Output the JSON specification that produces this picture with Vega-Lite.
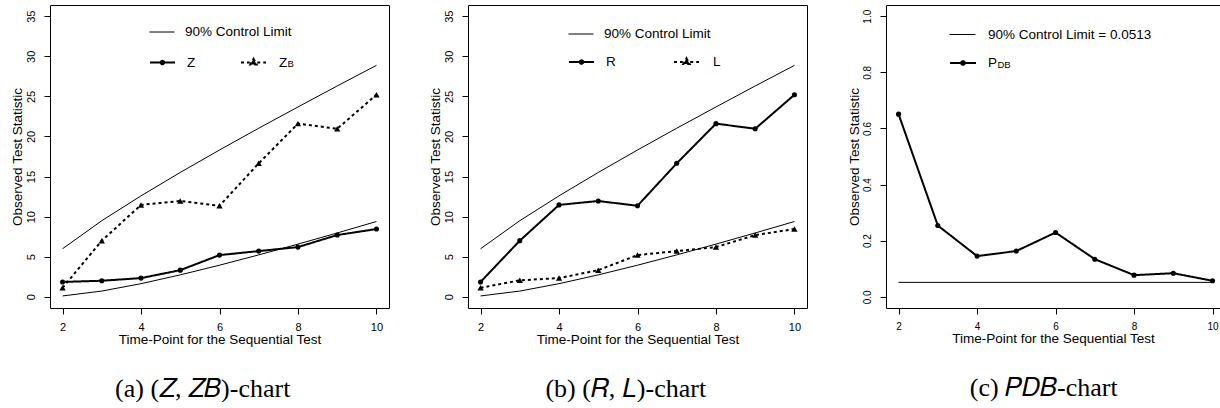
{
  "$schema": "https://vega.github.io/schema/vega-lite/v6.json",
  "usermeta": {"embedOptions": {"actions": false}},
  "background": "white",
  "padding": {"left": 9, "top": 4, "right": 0, "bottom": 0},
  "bounds": "flush",
  "spacing": 79,
  "resolve": {
    "scale": {"color": "independent", "strokeDash": "independent", "shape": "independent"},
    "legend": {"color": "independent", "strokeDash": "independent", "shape": "independent"}
  },
  "config": {
    "font": "Liberation Sans",
    "view": {"stroke": "black", "strokeWidth": 1},
    "axis": {"domain": false, "grid": false, "ticks": true, "tickSize": 6, "tickColor": "black", "tickWidth": 1, "labelColor": "black", "titleColor": "black", "titleFontWeight": "normal", "labelFont": "Liberation Sans", "titleFont": "Liberation Sans", "labelFontSize": 11, "titleFontSize": 13.5, "labelFlush": false, "labelOverlap": false},
    "axisX": {"labelPadding": 7, "titlePadding": 0},
    "axisY": {"labelPadding": 10, "titlePadding": 0.5},
    "legend": {"labelFont": "Liberation Sans", "labelFontSize": 13.5, "labelColor": "black", "labelLimit": 0, "padding": 0, "titleColor": "black", "symbolOpacity": 1}
  },
  "datasets": {
    "limits": [
      {"t": 2, "bound": "upper", "value": 5.99}, {"t": 3, "bound": "upper", "value": 9.49}, {"t": 4, "bound": "upper", "value": 12.59},
      {"t": 5, "bound": "upper", "value": 15.51}, {"t": 6, "bound": "upper", "value": 18.31}, {"t": 7, "bound": "upper", "value": 21.03},
      {"t": 8, "bound": "upper", "value": 23.68}, {"t": 9, "bound": "upper", "value": 26.3}, {"t": 10, "bound": "upper", "value": 28.87},
      {"t": 2, "bound": "lower", "value": 0.103}, {"t": 3, "bound": "lower", "value": 0.711}, {"t": 4, "bound": "lower", "value": 1.635},
      {"t": 5, "bound": "lower", "value": 2.733}, {"t": 6, "bound": "lower", "value": 3.94}, {"t": 7, "bound": "lower", "value": 5.226},
      {"t": 8, "bound": "lower", "value": 6.571}, {"t": 9, "bound": "lower", "value": 7.962}, {"t": 10, "bound": "lower", "value": 9.39}
    ],
    "zseries": [
      {"t": 2, "series": "Z", "value": 1.85}, {"t": 3, "series": "Z", "value": 2.0}, {"t": 4, "series": "Z", "value": 2.33},
      {"t": 5, "series": "Z", "value": 3.32}, {"t": 6, "series": "Z", "value": 5.2}, {"t": 7, "series": "Z", "value": 5.7},
      {"t": 8, "series": "Z", "value": 6.2}, {"t": 9, "series": "Z", "value": 7.7}, {"t": 10, "series": "Z", "value": 8.45},
      {"t": 2, "series": "Z_B", "value": 1.12}, {"t": 3, "series": "Z_B", "value": 7.0}, {"t": 4, "series": "Z_B", "value": 11.46},
      {"t": 5, "series": "Z_B", "value": 11.95}, {"t": 6, "series": "Z_B", "value": 11.35}, {"t": 7, "series": "Z_B", "value": 16.65},
      {"t": 8, "series": "Z_B", "value": 21.6}, {"t": 9, "series": "Z_B", "value": 20.96}, {"t": 10, "series": "Z_B", "value": 25.2}
    ],
    "rlseries": [
      {"t": 2, "series": "R", "value": 1.85}, {"t": 3, "series": "R", "value": 7.0}, {"t": 4, "series": "R", "value": 11.46},
      {"t": 5, "series": "R", "value": 11.95}, {"t": 6, "series": "R", "value": 11.35}, {"t": 7, "series": "R", "value": 16.65},
      {"t": 8, "series": "R", "value": 21.6}, {"t": 9, "series": "R", "value": 20.96}, {"t": 10, "series": "R", "value": 25.2},
      {"t": 2, "series": "L", "value": 1.12}, {"t": 3, "series": "L", "value": 2.05}, {"t": 4, "series": "L", "value": 2.33},
      {"t": 5, "series": "L", "value": 3.32}, {"t": 6, "series": "L", "value": 5.2}, {"t": 7, "series": "L", "value": 5.7},
      {"t": 8, "series": "L", "value": 6.2}, {"t": 9, "series": "L", "value": 7.7}, {"t": 10, "series": "L", "value": 8.45}
    ],
    "pdb": [
      {"t": 2, "series": "P_DB", "value": 0.651}, {"t": 3, "series": "P_DB", "value": 0.254}, {"t": 4, "series": "P_DB", "value": 0.145},
      {"t": 5, "series": "P_DB", "value": 0.163}, {"t": 6, "series": "P_DB", "value": 0.229}, {"t": 7, "series": "P_DB", "value": 0.134},
      {"t": 8, "series": "P_DB", "value": 0.077}, {"t": 9, "series": "P_DB", "value": 0.084}, {"t": 10, "series": "P_DB", "value": 0.057}
    ],
    "pdblimit": [
      {"t": 2, "bound": "limit", "value": 0.0513}, {"t": 10, "bound": "limit", "value": 0.0513}
    ]
  },
  "hconcat": [
    {
      "width": 339, "height": 303,
      "title": {"text": "(a) (𝑍, 𝑍𝐵)-chart", "orient": "bottom", "anchor": "middle", "frame": "bounds", "offset": 30, "dx": 3, "font": "Liberation Serif", "fontSize": 26, "fontWeight": "normal", "color": "black"},
      "resolve": {"scale": {"strokeDash": "independent"}, "legend": {"strokeDash": "independent"}},
      "encoding": {
        "x": {"field": "t", "type": "quantitative", "scale": {"domain": [1.68, 10.32], "nice": false, "zero": false}, "axis": {"values": [2, 4, 6, 8, 10], "title": "Time-Point for the Sequential Test"}},
        "y": {"field": "value", "type": "quantitative", "scale": {"domain": [-1.4, 36.4], "nice": false, "zero": false}, "axis": {"values": [0, 5, 10, 15, 20, 25, 30, 35], "title": "Observed Test Statistic", "labelAngle": 270, "labelAlign": "center", "labelBaseline": "alphabetic"}}
      },
      "layer": [
        {
          "data": {"name": "limits"},
          "mark": {"type": "line", "color": "black", "strokeWidth": 1},
          "encoding": {
            "detail": {"field": "bound"},
            "color": {"datum": "90% Control Limit", "scale": {"range": ["black"]}, "legend": {"orient": "none", "legendX": 99, "legendY": 14, "title": null, "symbolType": "stroke", "symbolSize": 625, "symbolStrokeWidth": 1, "labelOffset": 10}}
          }
        },
        {
          "data": {"name": "zseries"},
          "transform": [{"filter": "datum.series === 'Z'"}],
          "mark": {"type": "line", "color": "black", "strokeWidth": 2},
          "encoding": {
            "strokeDash": {"datum": "Z", "scale": {"range": [[1, 0]]},
              "legend": {"orient": "none", "legendX": 99, "legendY": 44, "symbolSize": 625, "symbolStrokeWidth": 2, "symbolStrokeColor": "black", "symbolFillColor": "black",
                "symbolType": "M-1,0H1M0.14,0A0.14,0.14,0,1,1,-0.14,0A0.14,0.14,0,1,1,0.14,0Z",
                "labelOffset": 11, "title": null}
            }
          }
        },
        {
          "data": {"name": "zseries"},
          "transform": [{"filter": "datum.series === 'Z_B'"}],
          "mark": {"type": "line", "color": "black", "strokeWidth": 2},
          "encoding": {
            "strokeDash": {"datum": "Z_B", "scale": {"range": [[3, 3]]},
              "legend": {"orient": "none", "legendX": 190, "legendY": 44, "symbolSize": 625, "symbolStrokeWidth": 2, "symbolStrokeColor": "black", "symbolFillColor": "black",
                "symbolType": "M-1,0H-0.3M0.3,0H1M0,-0.3L0.25,0.16L-0.25,0.16Z",
                "labelExpr": "'Z'", "labelOffset": 12,
                "title": "B", "titleOrient": "right", "titleAnchor": "end", "titleBaseline": "bottom", "titleFontSize": 9.5, "titleFontWeight": "normal", "titleFont": "Liberation Sans", "titlePadding": 0.5}
            }
          }
        },
        {
          "data": {"name": "zseries"},
          "transform": [{"filter": "datum.series === 'Z'"}],
          "mark": {"type": "point", "filled": true, "shape": "circle", "color": "black", "opacity": 1, "size": 26}
        },
        {
          "data": {"name": "zseries"},
          "transform": [{"filter": "datum.series === 'Z_B'"}],
          "mark": {"type": "point", "filled": true, "shape": "triangle-up", "color": "black", "opacity": 1, "size": 40}
        }
      ]
    },
    {
      "width": 339, "height": 303,
      "title": {"text": "(b) (𝑅, 𝐿)-chart", "orient": "bottom", "anchor": "middle", "frame": "bounds", "offset": 30, "dx": 8, "font": "Liberation Serif", "fontSize": 26, "fontWeight": "normal", "color": "black"},
      "resolve": {"scale": {"strokeDash": "independent"}, "legend": {"strokeDash": "independent"}},
      "encoding": {
        "x": {"field": "t", "type": "quantitative", "scale": {"domain": [1.68, 10.32], "nice": false, "zero": false}, "axis": {"values": [2, 4, 6, 8, 10], "title": "Time-Point for the Sequential Test"}},
        "y": {"field": "value", "type": "quantitative", "scale": {"domain": [-1.4, 36.4], "nice": false, "zero": false}, "axis": {"values": [0, 5, 10, 15, 20, 25, 30, 35], "title": "Observed Test Statistic", "labelAngle": 270, "labelAlign": "center", "labelBaseline": "alphabetic"}}
      },
      "layer": [
        {
          "data": {"name": "limits"},
          "mark": {"type": "line", "color": "black", "strokeWidth": 1},
          "encoding": {
            "detail": {"field": "bound"},
            "color": {"datum": "90% Control Limit", "scale": {"range": ["black"]}, "legend": {"orient": "none", "legendX": 100, "legendY": 16, "title": null, "symbolType": "stroke", "symbolSize": 625, "symbolStrokeWidth": 1, "labelOffset": 10}}
          }
        },
        {
          "data": {"name": "rlseries"},
          "transform": [{"filter": "datum.series === 'R'"}],
          "mark": {"type": "line", "color": "black", "strokeWidth": 2},
          "encoding": {
            "strokeDash": {"datum": "R", "scale": {"range": [[1, 0]]},
              "legend": {"orient": "none", "legendX": 100, "legendY": 43.5, "symbolSize": 625, "symbolStrokeWidth": 2, "symbolStrokeColor": "black", "symbolFillColor": "black",
                "symbolType": "M-1,0H1M0.14,0A0.14,0.14,0,1,1,-0.14,0A0.14,0.14,0,1,1,0.14,0Z",
                "labelOffset": 11, "title": null}
            }
          }
        },
        {
          "data": {"name": "rlseries"},
          "transform": [{"filter": "datum.series === 'L'"}],
          "mark": {"type": "line", "color": "black", "strokeWidth": 2},
          "encoding": {
            "strokeDash": {"datum": "L", "scale": {"range": [[3, 3]]},
              "legend": {"orient": "none", "legendX": 205, "legendY": 43.5, "symbolSize": 625, "symbolStrokeWidth": 2, "symbolStrokeColor": "black", "symbolFillColor": "black",
                "symbolType": "M-1,0H-0.3M0.3,0H1M0,-0.3L0.25,0.16L-0.25,0.16Z",
                "labelOffset": 13, "title": null}
            }
          }
        },
        {
          "data": {"name": "rlseries"},
          "transform": [{"filter": "datum.series === 'R'"}],
          "mark": {"type": "point", "filled": true, "shape": "circle", "color": "black", "opacity": 1, "size": 26}
        },
        {
          "data": {"name": "rlseries"},
          "transform": [{"filter": "datum.series === 'L'"}],
          "mark": {"type": "point", "filled": true, "shape": "triangle-up", "color": "black", "opacity": 1, "size": 40}
        }
      ]
    },
    {
      "width": 334, "height": 303,
      "title": {"text": "(c) 𝑃𝐷𝐵-chart", "orient": "bottom", "anchor": "middle", "frame": "bounds", "offset": 30, "dx": 10, "font": "Liberation Serif", "fontSize": 26, "fontWeight": "normal", "color": "black"},
      "encoding": {
        "x": {"field": "t", "type": "quantitative", "scale": {"domain": [1.68, 10.19], "nice": false, "zero": false}, "axis": {"values": [2, 4, 6, 8, 10], "title": "Time-Point for the Sequential Test", "labelFontSize": 10}},
        "y": {"field": "value", "type": "quantitative", "scale": {"domain": [-0.04, 1.04], "nice": false, "zero": false}, "axis": {"values": [0, 0.2, 0.4, 0.6, 0.8, 1.0], "format": ".1f", "title": "Observed Test Statistic", "labelFontSize": 10, "labelAngle": 270, "labelAlign": "center", "labelBaseline": "alphabetic"}}
      },
      "layer": [
        {
          "data": {"name": "pdblimit"},
          "mark": {"type": "line", "color": "black", "strokeWidth": 1},
          "encoding": {
            "color": {"datum": "90% Control Limit = 0.0513", "scale": {"range": ["black"]}, "legend": {"orient": "none", "legendX": 63, "legendY": 16, "title": null, "symbolType": "stroke", "symbolSize": 676, "symbolStrokeWidth": 1, "labelOffset": 12}}
          }
        },
        {
          "data": {"name": "pdb"},
          "mark": {"type": "line", "color": "black", "strokeWidth": 2},
          "encoding": {
            "strokeDash": {"field": "series", "type": "nominal", "scale": {"domain": ["P_DB"], "range": [[1, 0]]},
              "legend": {"orient": "none", "legendX": 63, "legendY": 44, "direction": "horizontal", "symbolSize": 676, "symbolStrokeWidth": 2, "symbolStrokeColor": "black", "symbolFillColor": "black",
                "symbolType": "M-1,0H1M0.14,0A0.14,0.14,0,1,1,-0.14,0A0.14,0.14,0,1,1,0.14,0Z",
                "labelExpr": "'P'", "labelOffset": 11,
                "title": "DB", "titleOrient": "right", "titleAnchor": "end", "titleBaseline": "bottom", "titleFontSize": 9.5, "titleFontWeight": "normal", "titleFont": "Liberation Sans", "titlePadding": 0.5}
            }
          }
        },
        {
          "data": {"name": "pdb"},
          "mark": {"type": "point", "filled": true, "shape": "circle", "color": "black", "opacity": 1, "size": 26}
        }
      ]
    }
  ]
}
